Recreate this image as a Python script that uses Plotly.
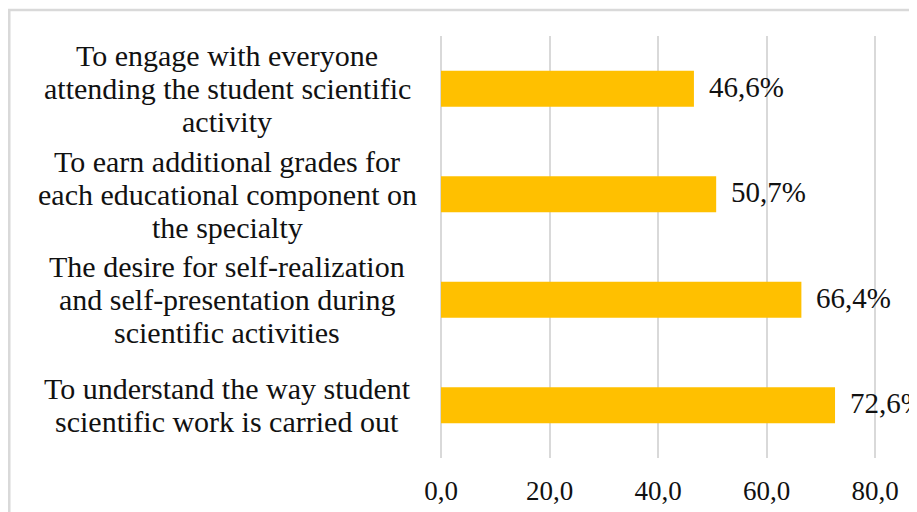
import plotly.graph_objects as go

categories = [
    "To engage with everyone<br>attending the student scientific<br>activity",
    "To earn additional grades for<br>each educational component on<br>the specialty",
    "The desire for self-realization<br>and self-presentation during<br>scientific activities",
    "To understand the way student<br>scientific work is carried out",
]
values = [46.6, 50.7, 66.4, 72.6]
tick_vals = [0, 20, 40, 60, 80]

FONT = "Liberation Serif, Times New Roman, serif"
ids = [f"c{i}" for i in range(len(categories))]
LINE_H = 33

fig = go.Figure()
fig.add_trace(go.Bar(
    x=values, y=ids, orientation="h",
    marker=dict(color="#FFC000", line=dict(width=0)),
    hoverinfo="skip",
))

annotations = []
for cid, lab, v in zip(ids, categories, values):
    lines = lab.split("<br>")
    n = len(lines)
    for i, ln in enumerate(lines):
        annotations.append(dict(
            x=0, xref="paper", y=cid, yref="y", text=ln,
            xanchor="center", yanchor="middle", xshift=-214,
            yshift=((n - 1) / 2 - i) * LINE_H,
            showarrow=False, font=dict(family=FONT, size=30, color="#111111"),
        ))
    annotations.append(dict(
        x=v, xref="x", y=cid, yref="y",
        text=f"{v:.1f}".replace(".", ",") + "%",
        xanchor="left", yanchor="middle", xshift=13, yshift=2,
        showarrow=False, font=dict(family=FONT, size=29, color="#111111"),
    ))

fig.update_layout(
    width=909, height=504,
    margin=dict(l=433, r=0, t=28, b=54),
    paper_bgcolor="white", plot_bgcolor="white",
    bargap=0.66, showlegend=False,
    separators=", ",
    annotations=annotations,
    shapes=[dict(type="rect", xref="paper", yref="paper",
                 x0=-0.907, x1=1.2, y0=-0.3, y1=1.0616,
                 line=dict(color="#d9d9d9", width=2.5), layer="below")],
)
fig.update_xaxes(
    range=[0, 87.7], tickvals=tick_vals, tickformat=".1f",
    showgrid=True, gridcolor="#d9d9d9", gridwidth=2,
    zeroline=True, zerolinecolor="#d9d9d9", zerolinewidth=2,
    showline=False, ticks="", ticklabelstandoff=14,
    tickfont=dict(family=FONT, size=27, color="#111111"),
)
fig.update_yaxes(
    categoryorder="array", categoryarray=ids, autorange="reversed",
    showticklabels=False, showgrid=False, zeroline=False, showline=False, ticks="",
)
fig.write_html("out.html")
